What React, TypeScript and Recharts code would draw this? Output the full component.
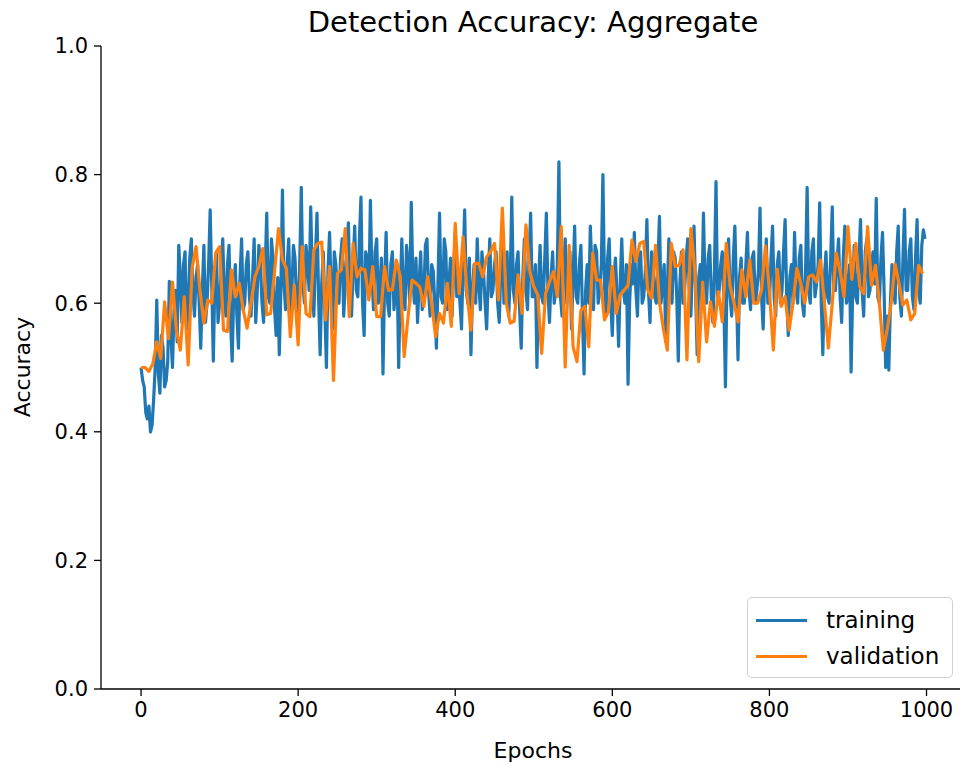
import React from 'react';
import { LineChart, Line, XAxis, YAxis } from 'recharts';

const TRAIN_STEP = 2;
const VAL_STEP = 5;

// training accuracy, one value every 2 epochs (0 .. 998)
const trainingAcc = [
  0.50, 0.48, 0.47, 0.43, 0.42, 0.44, 0.40, 0.41, 0.45, 0.50, 0.605, 0.49, 0.46, 0.55, 0.53, 0.47, 0.48, 0.51, 0.634, 0.55, 0.50, 0.59, 0.62, 0.54, 0.69, 0.64, 0.57, 0.66, 0.68, 0.56, 0.59, 0.67, 0.70, 0.62, 0.58, 0.64, 0.66, 0.60, 0.53, 0.62, 0.69, 0.57, 0.60, 0.66, 0.745, 0.63, 0.51, 0.64, 0.68, 0.57,
  0.60, 0.65, 0.70, 0.61, 0.58, 0.66, 0.69, 0.57, 0.51, 0.62, 0.66, 0.58, 0.53, 0.64, 0.70, 0.59, 0.60, 0.66, 0.68, 0.61, 0.58, 0.64, 0.70, 0.57, 0.62, 0.69, 0.66, 0.60, 0.57, 0.65, 0.74, 0.61, 0.60, 0.70, 0.67, 0.59, 0.55, 0.64, 0.52, 0.62, 0.776, 0.63, 0.59, 0.66, 0.70, 0.58, 0.62, 0.69, 0.67, 0.60,
  0.58, 0.66, 0.78, 0.63, 0.60, 0.69, 0.66, 0.62, 0.75, 0.64, 0.58, 0.67, 0.74, 0.61, 0.52, 0.63, 0.68, 0.59, 0.50, 0.65, 0.71, 0.62, 0.56, 0.68, 0.66, 0.61, 0.60, 0.67, 0.70, 0.58, 0.63, 0.69, 0.725, 0.60, 0.58, 0.66, 0.72, 0.62, 0.61, 0.70, 0.765, 0.60, 0.55, 0.68, 0.67, 0.61, 0.76, 0.64, 0.59, 0.68,
  0.70, 0.60, 0.62, 0.67, 0.49, 0.63, 0.71, 0.60, 0.58, 0.66, 0.68, 0.59, 0.62, 0.65, 0.50, 0.62, 0.70, 0.61, 0.59, 0.69, 0.66, 0.60, 0.757, 0.64, 0.60, 0.67, 0.57, 0.63, 0.68, 0.59, 0.61, 0.69, 0.70, 0.62, 0.58, 0.66, 0.65, 0.60, 0.53, 0.63, 0.74, 0.61, 0.60, 0.70, 0.68, 0.59, 0.63, 0.67, 0.58, 0.65,
  0.71, 0.61, 0.64, 0.60, 0.56, 0.66, 0.745, 0.62, 0.60, 0.67, 0.52, 0.62, 0.66, 0.60, 0.70, 0.63, 0.59, 0.68, 0.65, 0.60, 0.56, 0.64, 0.70, 0.61, 0.62, 0.66, 0.68, 0.60, 0.57, 0.65, 0.72, 0.60, 0.62, 0.68, 0.58, 0.64, 0.765, 0.62, 0.60, 0.66, 0.68, 0.59, 0.53, 0.64, 0.70, 0.62, 0.59, 0.67, 0.74, 0.61,
  0.61, 0.66, 0.50, 0.63, 0.69, 0.61, 0.60, 0.67, 0.74, 0.62, 0.57, 0.64, 0.68, 0.60, 0.62, 0.66, 0.82, 0.61, 0.58, 0.65, 0.70, 0.60, 0.63, 0.68, 0.56, 0.64, 0.72, 0.61, 0.60, 0.66, 0.69, 0.58, 0.49, 0.62, 0.66, 0.60, 0.72, 0.65, 0.59, 0.69, 0.68, 0.60, 0.62, 0.66, 0.80, 0.63, 0.58, 0.67, 0.70, 0.60,
  0.55, 0.64, 0.67, 0.61, 0.533, 0.63, 0.70, 0.62, 0.60, 0.66, 0.474, 0.60, 0.66, 0.63, 0.71, 0.62, 0.58, 0.67, 0.68, 0.60, 0.61, 0.65, 0.73, 0.62, 0.57, 0.68, 0.66, 0.61, 0.60, 0.66, 0.735, 0.60, 0.63, 0.66, 0.54, 0.62, 0.70, 0.64, 0.60, 0.68, 0.67, 0.61, 0.51, 0.63, 0.68, 0.60, 0.62, 0.67, 0.70, 0.62,
  0.58, 0.66, 0.72, 0.62, 0.52, 0.64, 0.66, 0.60, 0.74, 0.63, 0.60, 0.67, 0.69, 0.61, 0.57, 0.65, 0.789, 0.60, 0.62, 0.66, 0.68, 0.60, 0.47, 0.64, 0.70, 0.61, 0.58, 0.67, 0.72, 0.62, 0.512, 0.64, 0.67, 0.60, 0.60, 0.66, 0.71, 0.62, 0.59, 0.67, 0.68, 0.60, 0.62, 0.65, 0.748, 0.61, 0.56, 0.64, 0.70, 0.60,
  0.60, 0.67, 0.72, 0.61, 0.58, 0.66, 0.68, 0.60, 0.62, 0.68, 0.73, 0.61, 0.55, 0.64, 0.66, 0.60, 0.71, 0.62, 0.60, 0.67, 0.69, 0.60, 0.58, 0.65, 0.78, 0.62, 0.60, 0.68, 0.70, 0.61, 0.63, 0.66, 0.756, 0.60, 0.52, 0.64, 0.68, 0.61, 0.60, 0.67, 0.75, 0.62, 0.62, 0.66, 0.70, 0.61, 0.57, 0.67, 0.72, 0.60,
  0.61, 0.66, 0.493, 0.62, 0.69, 0.61, 0.60, 0.67, 0.73, 0.62, 0.58, 0.68, 0.70, 0.61, 0.62, 0.66, 0.68, 0.63, 0.763, 0.61, 0.60, 0.67, 0.71, 0.62, 0.50, 0.58, 0.496, 0.60, 0.66, 0.62, 0.60, 0.68, 0.72, 0.61, 0.58, 0.67, 0.746, 0.62, 0.62, 0.68, 0.70, 0.61, 0.59, 0.67, 0.73, 0.62, 0.60, 0.69, 0.714, 0.70,
];

// validation accuracy, one value every 5 epochs (0 .. 995)
const validationAcc = [
  0.500, 0.500, 0.494, 0.506, 0.540, 0.514, 0.602, 0.545, 0.633, 0.558, 0.527, 0.610, 0.504, 0.655, 0.688, 0.620, 0.569, 0.605, 0.600, 0.678,
  0.688, 0.558, 0.556, 0.652, 0.610, 0.631, 0.590, 0.561, 0.600, 0.641, 0.657, 0.685, 0.582, 0.584, 0.650, 0.716, 0.667, 0.654, 0.548, 0.628,
  0.535, 0.688, 0.584, 0.579, 0.683, 0.693, 0.695, 0.574, 0.657, 0.480, 0.646, 0.652, 0.716, 0.579, 0.693, 0.641, 0.654, 0.652, 0.605, 0.657,
  0.579, 0.579, 0.657, 0.620, 0.621, 0.667, 0.641, 0.517, 0.580, 0.636, 0.631, 0.625, 0.595, 0.641, 0.600, 0.548, 0.584, 0.569, 0.631, 0.564,
  0.724, 0.615, 0.703, 0.615, 0.558, 0.662, 0.662, 0.641, 0.672, 0.680, 0.693, 0.605, 0.748, 0.600, 0.569, 0.572, 0.644, 0.584, 0.722, 0.649,
  0.626, 0.613, 0.522, 0.615, 0.633, 0.649, 0.610, 0.719, 0.501, 0.690, 0.532, 0.509, 0.589, 0.595, 0.532, 0.678, 0.636, 0.636, 0.574, 0.587,
  0.657, 0.584, 0.613, 0.620, 0.628, 0.698, 0.665, 0.693, 0.696, 0.621, 0.608, 0.690, 0.602, 0.560, 0.527, 0.693, 0.657, 0.659, 0.683, 0.512,
  0.716, 0.652, 0.509, 0.633, 0.540, 0.602, 0.564, 0.618, 0.571, 0.693, 0.626, 0.600, 0.571, 0.652, 0.610, 0.667, 0.600, 0.600, 0.621, 0.689,
  0.620, 0.527, 0.653, 0.595, 0.610, 0.558, 0.600, 0.654, 0.630, 0.600, 0.641, 0.644, 0.633, 0.667, 0.600, 0.530, 0.600, 0.678, 0.650, 0.610,
  0.719, 0.637, 0.693, 0.626, 0.615, 0.719, 0.628, 0.659, 0.600, 0.527, 0.560, 0.600, 0.661, 0.630, 0.597, 0.605, 0.574, 0.584, 0.659, 0.646,
];

const xTicks = [0, 200, 400, 600, 800, 1000];
const yTicks = [0, 0.2, 0.4, 0.6, 0.8, 1.0];

const BLUE = '#1f77b4';
const ORANGE = '#ff7f0e';
const FONT = '"DejaVu Sans", Verdana, sans-serif';

const trainingData = trainingAcc.map((acc, i) => ({ epoch: i * TRAIN_STEP, acc }));
const validationData = validationAcc.map((acc, i) => ({ epoch: i * VAL_STEP, acc }));

const tickStyle = { fill: '#000', fontSize: 21, fontFamily: FONT };

export default function App() {
  return (
    <div style={{ position: 'absolute', left: 0, top: 0, width: 960, height: 765, overflow: 'hidden', background: '#fff', fontFamily: FONT }}>
      <LineChart width={970} height={765} margin={{ top: 46, right: 5, bottom: 0, left: 0 }}>
        <XAxis
          dataKey="epoch"
          type="number"
          domain={[-51, 1049]}
          ticks={xTicks}
          allowDataOverflow
          height={76}
          tick={tickStyle}
          tickSize={7}
          tickMargin={6}
          axisLine={{ stroke: '#000', strokeWidth: 1.3 }}
          tickLine={{ stroke: '#000', strokeWidth: 1.3 }}
        />
        <XAxis
          xAxisId="top"
          orientation="top"
          type="number"
          domain={[-51, 1049]}
          height={0}
          tick={false}
          tickLine={false}
          axisLine={{ stroke: '#000', strokeWidth: 1.3 }}
        />
        <YAxis
          type="number"
          domain={[0, 1]}
          ticks={yTicks}
          width={101}
          tick={tickStyle}
          tickSize={7}
          tickMargin={6}
          tickFormatter={(v: number) => v.toFixed(1)}
          axisLine={{ stroke: '#000', strokeWidth: 1.3 }}
          tickLine={{ stroke: '#000', strokeWidth: 1.3 }}
        />
        <Line
          data={trainingData}
          dataKey="acc"
          name="training"
          type="linear"
          stroke={BLUE}
          strokeWidth={3.2}
          strokeLinejoin="round"
          dot={false}
          activeDot={false}
          isAnimationActive={false}
        />
        <Line
          data={validationData}
          dataKey="acc"
          name="validation"
          type="linear"
          stroke={ORANGE}
          strokeWidth={3.2}
          strokeLinejoin="round"
          dot={false}
          activeDot={false}
          isAnimationActive={false}
        />
      </LineChart>

      <div style={{ position: 'absolute', left: 533, top: 22, transform: 'translate(-50%, -50%)', fontSize: 29, whiteSpace: 'nowrap', color: '#000' }}>
        Detection Accuracy: Aggregate
      </div>
      <div style={{ position: 'absolute', left: 22, top: 367, transform: 'translate(-50%, -50%) rotate(-90deg)', fontSize: 22, whiteSpace: 'nowrap', color: '#000' }}>
        Accuracy
      </div>
      <div style={{ position: 'absolute', left: 533, top: 750, transform: 'translate(-50%, -50%)', fontSize: 22, whiteSpace: 'nowrap', color: '#000' }}>
        Epochs
      </div>

      <div style={{ position: 'absolute', left: 747, top: 597, width: 204, height: 79, border: '1px solid #d0d0d0', borderRadius: 5, background: 'rgba(255,255,255,0.8)', boxSizing: 'content-box' }}>
        {[{ label: 'training', color: BLUE }, { label: 'validation', color: ORANGE }].map((item, i) => (
          <div key={item.label} style={{ position: 'absolute', left: 0, top: 4 + i * 36, height: 36, display: 'flex', alignItems: 'center' }}>
            <span style={{ display: 'inline-block', marginLeft: 8, width: 51, height: 3, background: item.color }} />
            <span style={{ marginLeft: 19, fontSize: 23, color: '#000' }}>{item.label}</span>
          </div>
        ))}
      </div>
    </div>
  );
}
